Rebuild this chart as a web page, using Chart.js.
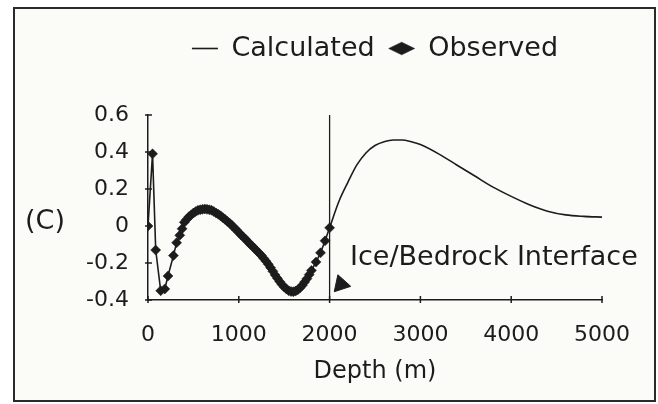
<!DOCTYPE html>
<html>
<head>
<meta charset="utf-8">
<script src="https://cdn.jsdelivr.net/npm/chart.js@4"></script>
<style>
  html, body { margin: 0; padding: 0; background: #ffffff; }
  #wrap { width: 658px; height: 404px; }
</style>
</head>
<body>
<div id="wrap"><canvas id="chart" width="658" height="404"></canvas></div>
<script>
// observed points (depth m, value) - sparse near surface, dense through the ice
const obsDepth = [0, 50, 85, 140, 185, 220, 280, 315, 350, 375, 400, 425, 450, 475, 500, 525, 550, 575,
  600, 625, 650, 675, 700, 725, 750, 775, 800, 825, 850, 875, 900, 925, 950, 975, 1000, 1025, 1050,
  1075, 1100, 1125, 1150, 1175, 1200, 1225, 1250, 1275, 1300, 1325, 1350, 1375, 1400, 1425, 1450,
  1475, 1500, 1525, 1550, 1575, 1600, 1625, 1650, 1675, 1700, 1725, 1750, 1775, 1800, 1850, 1900,
  1950, 2000];
const obsValue = [0, 0.39, -0.13, -0.35, -0.34, -0.27, -0.16, -0.09, -0.05, -0.015, 0.02, 0.035, 0.05,
  0.06, 0.07, 0.078, 0.085, 0.088, 0.09, 0.092, 0.09, 0.088, 0.085, 0.078, 0.07, 0.063, 0.055, 0.045,
  0.035, 0.025, 0.015, 0.003, -0.01, -0.022, -0.035, -0.048, -0.06, -0.072, -0.085, -0.098, -0.11,
  -0.122, -0.135, -0.147, -0.16, -0.175, -0.19, -0.207, -0.225, -0.245, -0.265, -0.283, -0.3, -0.316,
  -0.33, -0.341, -0.35, -0.354, -0.355, -0.352, -0.345, -0.334, -0.32, -0.303, -0.285, -0.263, -0.24,
  -0.195, -0.145, -0.08, -0.01];

// calculated curve below the interface
const calcDepth = [2000, 2100, 2200, 2300, 2400, 2500, 2600, 2700, 2800, 2900, 3000, 3200, 3400, 3600,
  3800, 4000, 4200, 4400, 4600, 4800, 5000];
const calcValue = [-0.01, 0.13, 0.235, 0.33, 0.395, 0.435, 0.455, 0.465, 0.465, 0.455, 0.44, 0.39, 0.33,
  0.27, 0.21, 0.16, 0.115, 0.08, 0.06, 0.052, 0.048];

const interfaceDepth = 2000;
const arrowPoint = { x: 2125, y: -0.315 };
const interfaceLabel = { text: 'Ice/Bedrock Interface', x: 2225, y: -0.175 };

const xTicks = [0, 1000, 2000, 3000, 4000, 5000];
const xTickLabels = ['0', '1000', '2000', '3000', '4000', '5000'];
const yTicks = [-0.4, -0.2, 0, 0.2, 0.4, 0.6];
const yTickLabels = ['-0.4', '-0.2', '0', '0.2', '0.4', '0.6'];

const INK = '#1c1c1c';
const FONT = 'DejaVu Sans';

const toXY = (xs, ys) => xs.map((x, i) => ({ x, y: ys[i] }));
const labelFor = (ticks, labels) => v => labels[ticks.findIndex(t => Math.abs(t - v) < 1e-9)];

// frame + paper background
const paper = {
  id: 'paper',
  beforeDraw(chart) {
    const ctx = chart.ctx;
    ctx.save();
    ctx.fillStyle = '#ffffff';
    ctx.fillRect(0, 0, chart.width, chart.height);
    ctx.fillStyle = '#fbfbf8';
    ctx.fillRect(14, 8, 641, 393);
    ctx.strokeStyle = '#2a2a2a';
    ctx.lineWidth = 2;
    ctx.strokeRect(14, 8, 641, 393);
    ctx.restore();
  }
};

// crossing tick marks, "(C)" label and interface text
const extras = {
  id: 'extras',
  afterDraw(chart) {
    const { ctx, scales: { x, y } } = chart;
    ctx.save();
    ctx.strokeStyle = INK;
    ctx.lineWidth = 1.5;
    xTicks.forEach(v => {
      const px = x.getPixelForValue(v);
      ctx.beginPath(); ctx.moveTo(px, y.bottom - 4); ctx.lineTo(px, y.bottom + 3); ctx.stroke();
    });
    yTicks.forEach(v => {
      const py = y.getPixelForValue(v);
      ctx.beginPath(); ctx.moveTo(x.left - 3, py); ctx.lineTo(x.left + 4, py); ctx.stroke();
    });
    ctx.fillStyle = INK;
    ctx.font = `27px "${FONT}"`;
    ctx.textBaseline = 'middle';
    ctx.textAlign = 'left';
    ctx.fillText('(C)', 25, y.getPixelForValue(0.02));
    ctx.fillText(interfaceLabel.text, x.getPixelForValue(interfaceLabel.x), y.getPixelForValue(interfaceLabel.y));
    ctx.restore();
  }
};

// push chart area down below the legend
const legendGap = {
  id: 'legendGap',
  beforeInit(chart) {
    const fit = chart.legend.fit;
    chart.legend.fit = function () {
      fit.bind(chart.legend)();
      this.height += 43;
    };
  }
};

new Chart(document.getElementById('chart'), {
  type: 'line',
  data: {
    datasets: [
      {
        label: 'Calculated',
        data: toXY(calcDepth, calcValue),
        borderColor: INK,
        borderWidth: 1.6,
        pointRadius: 0,
        pointStyle: 'line',
        cubicInterpolationMode: 'monotone',
        fill: false
      },
      {
        label: 'Observed',
        data: toXY(obsDepth, obsValue),
        borderColor: INK,
        backgroundColor: INK,
        borderWidth: 1.6,
        pointStyle: 'rectRot',
        pointRadius: 5,
        pointBackgroundColor: INK,
        pointBorderColor: INK,
        pointBorderWidth: 0.5,
        tension: 0,
        fill: false
      },
      {
        label: 'interface',
        data: [{ x: interfaceDepth, y: -0.4 }, { x: interfaceDepth, y: 0.6 }],
        borderColor: INK,
        borderWidth: 1.3,
        pointRadius: 0,
        fill: false
      },
      {
        label: 'arrow',
        data: [arrowPoint],
        showLine: false,
        pointStyle: 'triangle',
        pointRadius: 10,
        pointRotation: 222,
        pointBackgroundColor: INK,
        pointBorderColor: INK,
        borderColor: INK
      }
    ]
  },
  options: {
    responsive: false,
    animation: false,
    layout: { padding: { left: 14, right: 56, top: 21, bottom: 10 } },
    plugins: {
      tooltip: { enabled: false },
      legend: {
        fullSize: false,
        position: 'top',
        align: 'center',
        labels: {
          filter: item => item.text === 'Calculated' || item.text === 'Observed',
          usePointStyle: true,
          boxHeight: 9,
          pointStyleWidth: 26,
          padding: 14,
          color: INK,
          font: { family: FONT, size: 27 }
        }
      }
    },
    scales: {
      x: {
        type: 'linear',
        min: 0,
        max: 5000,
        afterBuildTicks: s => { s.ticks = xTicks.map(v => ({ value: v })); },
        grid: { display: false },
        border: { display: true, color: INK, width: 1.5 },
        ticks: {
          color: INK,
          font: { family: FONT, size: 22 },
          padding: 14,
          maxRotation: 0,
          autoSkip: false,
          callback: labelFor(xTicks, xTickLabels)
        },
        title: { display: true, text: 'Depth (m)', color: INK, font: { family: FONT, size: 24 }, padding: { top: 8, bottom: 8 } },
        afterFit: s => { s.height = 94; }
      },
      y: {
        min: -0.4,
        max: 0.6,
        afterBuildTicks: s => { s.ticks = yTicks.map(v => ({ value: v })); },
        grid: { display: false },
        border: { display: true, color: INK, width: 1.5 },
        ticks: {
          color: INK,
          font: { family: FONT, size: 22 },
          padding: 11,
          callback: labelFor(yTicks, yTickLabels)
        },
        afterFit: s => { s.width = 134; }
      }
    }
  },
  plugins: [paper, extras, legendGap]
});
</script>
</body>
</html>
